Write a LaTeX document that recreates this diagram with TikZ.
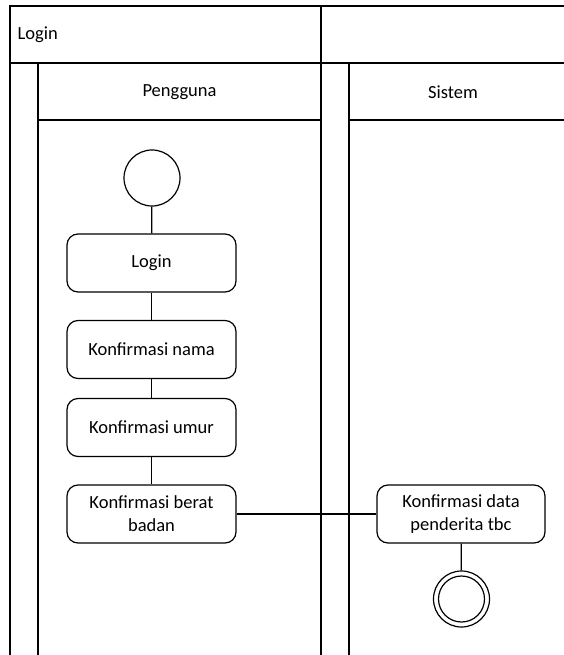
\documentclass[tikz,border=0pt]{standalone}
\usepackage{fontspec}
\setmainfont{Carlito}
\begin{document}
\begin{tikzpicture}[x=1pt,y=-1pt,
  lane/.style={draw=black,line width=1.3pt},
  act/.style={draw=black,line width=1.2pt,rounded corners=11pt,minimum width=169pt,minimum height=58pt,align=center,font=\fontsize{18.5}{23}\selectfont,inner sep=0pt},
  lbl/.style={font=\fontsize{18.5}{23}\selectfont,inner sep=0pt},
  conn/.style={draw=black,line width=1.2pt}]
\useasboundingbox (0,0) rectangle (564,655);
% frame
\draw[lane] (564,6) -- (10,6) -- (10,655);
\draw[lane] (10,63) -- (564,63);
\draw[lane] (321,6) -- (321,655);
\draw[lane] (38,63) -- (38,655);
\draw[lane] (349,63) -- (349,655);
\draw[lane] (38,120) -- (321,120);
\draw[lane] (349,120) -- (564,120);
\node[lbl,anchor=west] (title) at (17.5,34.5) {Login};
\node[lbl] (pengguna) at (179.5,92) {Pengguna};
\node[lbl] (sistem) at (453,92) {Sistem};
% nodes
\node[draw=black,line width=1.2pt,circle,minimum size=56pt,inner sep=0pt] (start) at (152,178) {};
\node[act] (login) at (151.5,263) {Login};
\node[act] (nama) at (151.5,349.5) {Konfirmasi nama};
\node[act] (umur) at (151.5,427.5) {Konfirmasi umur};
\node[act] (berat) at (151.5,514) {Konfirmasi berat\\badan};
\node[act,minimum width=168pt] (data) at (461,514) {Konfirmasi data\\penderita tbc};
\node[draw=black,line width=1.2pt,circle,minimum size=56pt,inner sep=0pt] (endo) at (461.5,599) {};
\node[draw=black,line width=1.2pt,circle,minimum size=46pt,inner sep=0pt] (endi) at (461.5,599) {};
% connectors
\draw[conn] (start) -- (login);
\draw[conn] (login) -- (nama);
\draw[conn] (nama) -- (umur);
\draw[conn] (umur) -- (berat);
\draw[conn] (berat) -- (data);
\draw[conn] (data) -- (endo);
\end{tikzpicture}
\end{document}
